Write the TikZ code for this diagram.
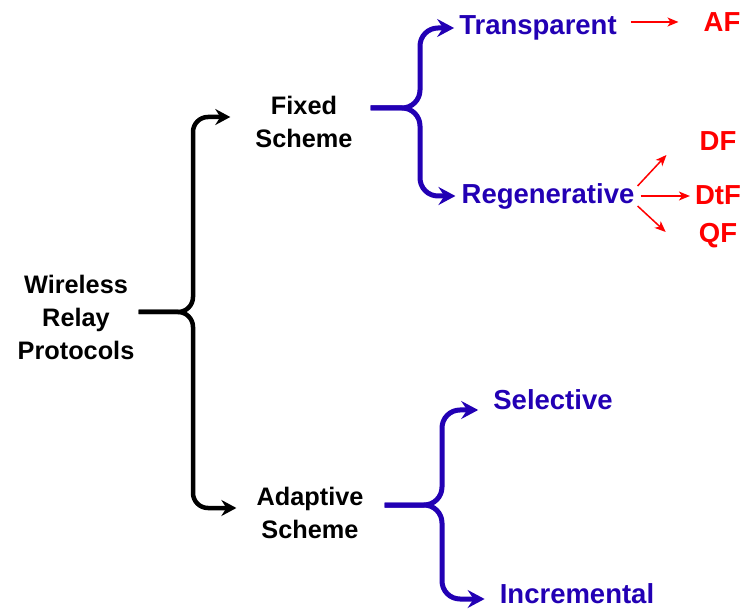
\documentclass[tikz,border=0pt]{standalone}
\usepackage{fontspec}
\setmainfont{Liberation Sans}
\usetikzlibrary{arrows.meta}
\definecolor{relblue}{RGB}{34,0,180}
\definecolor{relred}{RGB}{255,0,0}

\begin{document}
\begin{tikzpicture}[x=1pt,y=-1pt,
    blacktext/.style={font=\fontsize{25.3}{33}\selectfont\bfseries,align=center,inner sep=3pt},
    bluetext/.style={font=\fontsize{27.5}{33}\selectfont\bfseries,text=relblue,inner sep=3pt},
    redtext/.style={font=\fontsize{27.5}{33}\selectfont\bfseries,text=relred,inner sep=3pt},
    blackbrace/.style={line width=4.5pt,rounded corners=15pt,-{Stealth[length=15pt,width=16pt,inset=5pt]}},
    bluebrace/.style={relblue,line width=5pt,rounded corners=18pt,-{Stealth[length=17pt,width=18pt,inset=6pt]}},
    redarrow/.style={relred,line width=1.5pt,-{Stealth[length=11pt,width=9pt,inset=3pt]}}]

    \useasboundingbox (0,0) rectangle (747,609);

    % NIVEAU 1 : protocoles
    \node[blacktext] (root) at (76,317) {Wireless\\Relay\\Protocols};

    % NIVEAU 2 : schemas
    \node[blacktext] (fixed) at (304,122) {Fixed\\Scheme};
    \node[blacktext] (adapt) at (310,513) {Adaptive\\Scheme};

    % NIVEAU 3 : types
    \node[bluetext] (transp) at (538,28) {Transparent};
    \node[bluetext] (regen) at (548,196) {Regenerative};
    \node[bluetext] (select) at (553,400) {Selective};
    \node[bluetext] (increm) at (577,594) {Incremental};

    % NIVEAU 4 : modes
    \node[redtext] (af) at (722,22) {AF};
    \node[redtext] (df) at (718,141) {DF};
    \node[redtext] (dtf) at (718,195) {DtF};
    \node[redtext] (qf) at (718,236) {QF};

    % POINTES DES ACCOLADES
    \coordinate (jroot) at (193,312);
    \coordinate (jfixed) at (420,108);
    \coordinate (jadapt) at (442,505);

    % ACCOLADE NOIRE
    \draw[blackbrace,shorten <=1pt,shorten >=22pt] (root.east |- jroot) -- (jroot) |- ([yshift=5pt]fixed.west);
    \draw[blackbrace,shorten <=1pt,shorten >=17pt] (root.east |- jroot) -- (jroot) |- ([yshift=5pt]adapt.west);

    % ACCOLADES BLEUES
    \draw[bluebrace,shorten <=15pt,shorten >=2pt] (fixed.east |- jfixed) -- (jfixed) |- (transp.west);
    \draw[bluebrace,shorten <=15pt,shorten >=3pt] (fixed.east |- jfixed) -- (jfixed) |- (regen.west);
    \draw[bluebrace,shorten <=18pt,shorten >=12pt] (adapt.east |- jadapt) -- (jadapt) |- ([yshift=-10pt]select.west);
    \draw[bluebrace,shorten <=18pt,shorten >=12pt] (adapt.east |- jadapt) -- (jadapt) |- ([yshift=-5pt]increm.west);

    % FLECHES ROUGES
    \draw[redarrow,shorten <=11pt,shorten >=22pt] (transp.east |- af.west) -- (af.west);
    \draw[redarrow] ([shift={(0,-10)}]regen.east) -- ([shift={(-30,14)}]df.west);
    \draw[redarrow,shorten <=3pt,shorten >=2pt] (regen.east) -- (regen.east -| dtf.west);
    \draw[redarrow] ([shift={(0,10)}]regen.east) -- ([shift={(-30,-4)}]qf.west);

\end{tikzpicture}
\end{document}
